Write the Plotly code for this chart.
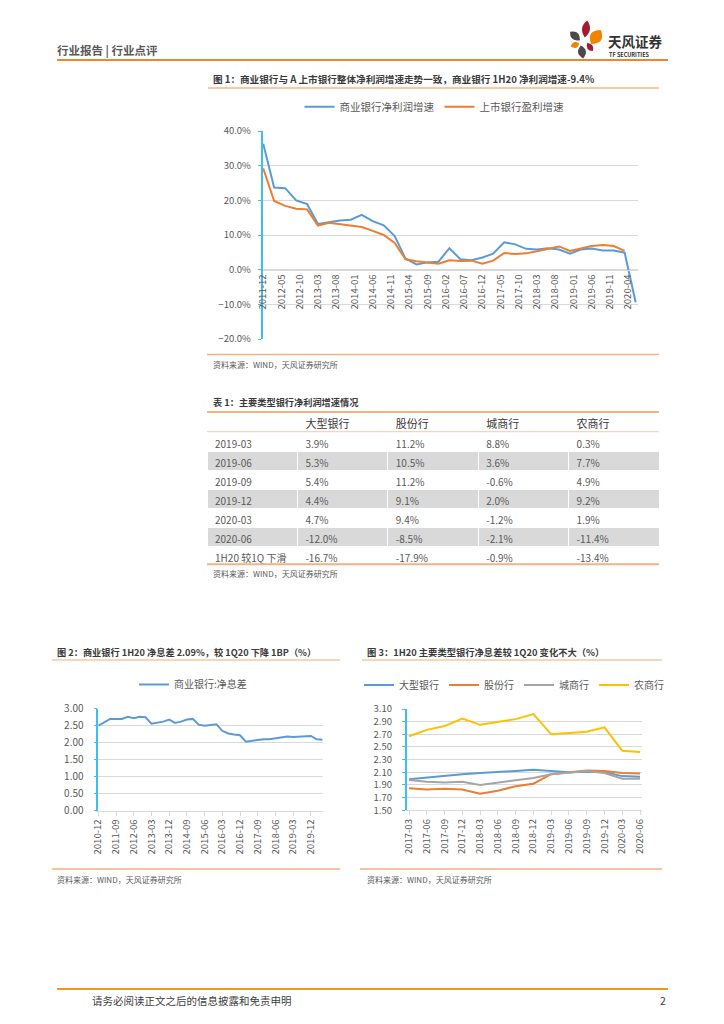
import math
import plotly.graph_objects as go

W, H = 724, 1024
FONT = "Noto Sans CJK SC, Liberation Sans, sans-serif"
GRAY_TXT = "#595959"
DARK_TXT = "#3a3a3a"
GRID = "#d9d9d9"
CYAN = "#3cbef0"
LINE_OR = "#f4b183"


def px(x):
    return x / W


def py(y):
    return 1 - y / H


# ---------------- Chart 1 data ----------------
c1_quarters = ["2011-12", "2012-03", "2012-06", "2012-09", "2012-12", "2013-03", "2013-06",
               "2013-09", "2013-12", "2014-03", "2014-06", "2014-09", "2014-12", "2015-03",
               "2015-06", "2015-09", "2015-12", "2016-03", "2016-06", "2016-09", "2016-12",
               "2017-03", "2017-06", "2017-09", "2017-12", "2018-03", "2018-06", "2018-09",
               "2018-12", "2019-03", "2019-06", "2019-09", "2019-12", "2020-03", "2020-06"]
c1_commercial = [36.3, 23.7, 23.5, 20.0, 18.9, 13.2, 13.7, 14.2, 14.4, 15.8, 14.0, 12.8, 9.7,
                 3.2, 1.5, 2.1, 2.3, 6.2, 3.0, 2.7, 3.5, 4.6, 7.9, 7.3, 6.0, 5.8, 6.2, 5.8,
                 4.6, 5.8, 6.1, 5.5, 5.5, 4.9, -9.4]
c1_listed = [29.2, 19.8, 18.4, 17.6, 17.4, 12.7, 13.5, 13.1, 12.9, 12.3, 11.2, 10.0, 7.7,
             3.0, 2.4, 2.1, 1.7, 2.7, 2.5, 2.6, 1.7, 2.6, 4.8, 4.5, 4.7, 5.3, 6.1, 6.7,
             5.4, 6.2, 6.8, 7.1, 6.8, 5.4, None]

# ---------------- Table data ----------------
tbl_header = ["", "大型银行", "股份行", "城商行", "农商行"]
tbl_rows = ["2019-03", "2019-06", "2019-09", "2019-12", "2020-03", "2020-06",
            "1H20\u00a0较1Q\u00a0下滑"]
tbl_large = [3.9, 5.3, 5.4, 4.4, 4.7, -12.0, -16.7]
tbl_joint = [11.2, 10.5, 11.2, 9.1, 9.4, -8.5, -17.9]
tbl_city = [8.8, 3.6, -0.6, 2.0, -1.2, -2.1, -0.9]
tbl_rural = [0.3, 7.7, 4.9, 9.2, 1.9, -11.4, -13.4]

# ---------------- Chart 2 data ----------------
c2_quarters = ["2010-12", "2011-03", "2011-06", "2011-09", "2011-12", "2012-03", "2012-06",
               "2012-09", "2012-12", "2013-03", "2013-06", "2013-09", "2013-12", "2014-03",
               "2014-06", "2014-09", "2014-12", "2015-03", "2015-06", "2015-09", "2015-12",
               "2016-03", "2016-06", "2016-09", "2016-12", "2017-03", "2017-06", "2017-09",
               "2017-12", "2018-03", "2018-06", "2018-09", "2018-12", "2019-03", "2019-06",
               "2019-09", "2019-12", "2020-03", "2020-06"]
c2_nim = [2.50, 2.60, 2.70, 2.70, 2.70, 2.76, 2.72, 2.76, 2.75, 2.56, 2.58, 2.62, 2.68,
          2.58, 2.62, 2.68, 2.70, 2.53, 2.50, 2.53, 2.54, 2.35, 2.27, 2.24, 2.22, 2.03,
          2.06, 2.08, 2.10, 2.10, 2.13, 2.16, 2.18, 2.17, 2.18, 2.19, 2.20, 2.10, 2.09]

# ---------------- Chart 3 data ----------------
c3_quarters = ["2017-03", "2017-06", "2017-09", "2017-12", "2018-03", "2018-06", "2018-09",
               "2018-12", "2019-03", "2019-06", "2019-09", "2019-12", "2020-03", "2020-06"]
c3_large = [1.99, 2.02, 2.05, 2.07, 2.09, 2.10, 2.12, 2.14, 2.12, 2.10, 2.11, 2.10, 2.04, 2.03]
c3_joint = [1.85, 1.83, 1.84, 1.83, 1.76, 1.81, 1.88, 1.92, 2.07, 2.10, 2.13, 2.12, 2.09, 2.08]
c3_city = [1.98, 1.95, 1.94, 1.95, 1.90, 1.94, 1.97, 2.01, 2.07, 2.09, 2.12, 2.09, 2.00, 2.00]
c3_rural = [2.67, 2.77, 2.83, 2.95, 2.85, 2.90, 2.94, 3.02, 2.70, 2.72, 2.74, 2.81, 2.44, 2.42]

BLUE, ORANGE, GREY, GOLD = "#5b9bd5", "#ed7d31", "#a5a5a5", "#ffc000"

fig = go.Figure()

# Chart 1 traces
fig.add_trace(go.Scatter(x=[q + "-01" for q in c1_quarters], y=c1_commercial, name="商业银行净利润增速",
                         mode="lines", line=dict(color=BLUE, width=2), xaxis="x", yaxis="y",
                         legend="legend"))
fig.add_trace(go.Scatter(x=[q + "-01" for q in c1_quarters], y=c1_listed, name="上市银行盈利增速",
                         mode="lines", line=dict(color=ORANGE, width=2), xaxis="x", yaxis="y",
                         legend="legend"))

# Chart 2 trace
fig.add_trace(go.Scatter(x=c2_quarters, y=c2_nim, name="商业银行:净息差", mode="lines",
                         line=dict(color=BLUE, width=2), xaxis="x2", yaxis="y2", legend="legend2"))

# Chart 3 traces
for name, vals, col in [("大型银行", c3_large, BLUE), ("股份行", c3_joint, ORANGE),
                        ("城商行", c3_city, GREY), ("农商行", c3_rural, GOLD)]:
    fig.add_trace(go.Scatter(x=c3_quarters, y=vals, name=name, mode="lines",
                             line=dict(color=col, width=2), xaxis="x3", yaxis="y3",
                             legend="legend3"))

# Table
def fmt(v):
    return f"{v:.1f}%"

row_fill = ["white" if i % 2 == 0 else "#d9d9d9" for i in range(len(tbl_rows))]
fig.add_trace(go.Table(
    domain=dict(x=[px(207), px(659)], y=[py(568), py(412)]),
    columnwidth=[1, 1, 1, 1, 1],
    header=dict(values=tbl_header, height=20, fill_color="white", line=dict(color="white", width=1),
                align="left", font=dict(family=FONT, size=11, color=DARK_TXT)),
    cells=dict(values=[tbl_rows, [fmt(v) for v in tbl_large], [fmt(v) for v in tbl_joint],
                       [fmt(v) for v in tbl_city], [fmt(v) for v in tbl_rural]],
               height=19, fill_color=[row_fill] * 5, line=dict(color="white", width=1),
               align="left",
               font=dict(family=FONT, size=10, color=GRAY_TXT)),
))

tick_font = dict(family=FONT, size=9.5, color=GRAY_TXT)
legend_font = dict(family=FONT, size=10.5, color=GRAY_TXT)

fig.update_layout(
    width=W, height=H, margin=dict(l=0, r=0, t=0, b=0, pad=0, autoexpand=False),
    paper_bgcolor="white", plot_bgcolor="white",
    font=dict(family=FONT, color=GRAY_TXT),
    showlegend=True,
    # chart 1
    xaxis=dict(domain=[px(262.5), px(637.7)], anchor="free", position=py(269.7), type="date",
               range=["2011-11-25", "2020-06-18"], tick0="2011-12-01", dtick="M5",
               tickformat="%Y-%m", tickangle=-90, tickfont=tick_font, showgrid=False,
               showline=True, linecolor=GRID, linewidth=1, ticks="", zeroline=False,
               automargin=False),
    yaxis=dict(domain=[py(339), py(131)], anchor="x", range=[-20, 40], dtick=10,
               tickformat=".1f", ticksuffix="%", tickfont=tick_font, showgrid=True,
               gridcolor=GRID, gridwidth=1, zeroline=False, showline=True, linecolor=CYAN,
               linewidth=1.5, ticks="outside", ticklen=3, tickcolor=CYAN,
               ticklabelstandoff=5, automargin=False),
    # chart 2
    xaxis2=dict(domain=[px(98.3), px(322.7)], anchor="y2", type="category", range=[0, 38],
                tickmode="array", tickvals=c2_quarters[::3], ticktext=c2_quarters[::3],
                tickangle=-90, tickfont=tick_font, showgrid=False, showline=True,
                linecolor=GRID, ticks="outside", ticklen=4, tickcolor=GRID, zeroline=False,
                automargin=False),
    yaxis2=dict(domain=[py(810.7), py(708.7)], anchor="x2", range=[0, 3.0], dtick=0.5,
                tickformat=".2f", tickfont=dict(family=FONT, size=10, color=GRAY_TXT),
                showgrid=True, gridcolor=GRID, zeroline=False, showline=True, linecolor=CYAN,
                linewidth=1.5, ticks="outside", ticklen=3, tickcolor=CYAN,
                ticklabelstandoff=8, automargin=False),
    # chart 3
    xaxis3=dict(domain=[px(406.7), px(642)], anchor="y3", type="category", range=[-0.13, 13.11],
                tickangle=-90, tickfont=dict(family=FONT, size=9.5, color=GRAY_TXT),
                showgrid=False, showline=True, linecolor=GRID, ticks="outside", ticklen=4,
                tickcolor=GRID, zeroline=False, automargin=False),
    yaxis3=dict(domain=[py(810.3), py(709)], anchor="x3", range=[1.5, 3.1], tick0=1.5, dtick=0.2,
                tickformat=".2f", tickfont=dict(family=FONT, size=9.5, color=GRAY_TXT),
                showgrid=True, gridcolor=GRID, zeroline=False, showline=True, linecolor=CYAN,
                linewidth=1.5, ticks="outside", ticklen=3, tickcolor=CYAN,
                ticklabelstandoff=8, automargin=False),
    legend=dict(orientation="h", x=px(434.5), xanchor="center", y=py(106.7), yanchor="middle",
                font=legend_font, bgcolor="rgba(0,0,0,0)", itemwidth=30),
    legend2=dict(orientation="h", x=px(193), xanchor="center", y=py(684.5), yanchor="middle",
                 font=dict(family=FONT, size=10, color=GRAY_TXT), bgcolor="rgba(0,0,0,0)",
                 itemwidth=30),
    legend3=dict(orientation="h", x=px(514), xanchor="center", y=py(685), yanchor="middle",
                 font=dict(family=FONT, size=10, color=GRAY_TXT), bgcolor="rgba(0,0,0,0)",
                 itemwidth=30),
)

shapes = []


def hline(x0, x1, y, color, width):
    shapes.append(dict(type="line", xref="paper", yref="paper", x0=px(x0), x1=px(x1),
                       y0=py(y), y1=py(y), line=dict(color=color, width=width)))


hline(57, 668, 60, "#f0862a", 2)          # header
hline(208, 659, 88, "#f8c9a2", 2)         # fig1 title underline
hline(207, 659, 354.5, LINE_OR, 1.5)      # fig1 bottom
hline(207, 659, 412, LINE_OR, 2)          # table top
hline(207, 659, 431.7, "#f8cbad", 1)      # table header bottom
hline(207, 659, 564.3, LINE_OR, 2)        # table bottom
hline(52, 340, 660, "#f8c9a2", 1.5)       # fig2 title underline
hline(362, 662, 660, "#f8c9a2", 1.5)      # fig3 title underline
hline(52, 340, 869, LINE_OR, 1.5)         # fig2 bottom
hline(360, 662, 869, LINE_OR, 1.5)        # fig3 bottom
hline(57, 668, 989, "#f29421", 2)         # footer


def petal(cx, cy, L, Wd, ang_deg, color):
    a = math.radians(ang_deg)
    dx, dy = math.cos(a), -math.sin(a)
    nx, ny = -dy, dx
    p1 = (cx - L / 2 * dx, cy - L / 2 * dy)
    p2 = (cx + L / 2 * dx, cy + L / 2 * dy)
    c1 = (cx + Wd * nx, cy + Wd * ny)
    c2 = (cx - Wd * nx, cy - Wd * ny)

    def P(p):
        return f"{px(p[0]):.5f},{py(p[1]):.5f}"
    shapes.append(dict(type="path", xref="paper", yref="paper",
                       path=f"M {P(p1)} Q {P(c1)} {P(p2)} Q {P(c2)} {P(p1)} Z",
                       fillcolor=color, line=dict(width=0)))


petal(586, 29, 17, 8, 82, "#a6192e")
petal(575, 36, 13, 8, 140, "#4a4a4a")
petal(596, 37, 17, 12, 55, "#f08300")
petal(575, 45, 9, 6, 20, "#f08300")
petal(590, 47, 10, 6, -55, "#a6192e")
petal(582, 52, 13, 8, 100, "#4a4a4a")

fig.update_layout(shapes=shapes)

annotations = []


def text(x, y, s, size, color=GRAY_TXT, anchor="left"):
    annotations.append(dict(x=px(x), y=py(y), xref="paper", yref="paper", text=s,
                            showarrow=False, xanchor=anchor, yanchor="middle",
                            font=dict(family=FONT, size=size, color=color)))


text(55, 50, "<b>行业报告 | 行业点评</b>", 11.5, "#595959")
text(606, 41, "<b>天风证券</b>", 13.5, "#333333")
text(607, 55, "<b>TF SECURITIES</b>", 5.5, "#333333")
text(211, 79, "<b>图 1：商业银行与 A 上市银行整体净利润增速走势一致，商业银行 1H20 净利润增速-9.4%</b>", 9.6, DARK_TXT)
text(211, 364, "资料来源：WIND，天风证券研究所", 8, GRAY_TXT)
text(211, 402, "<b>表 1：主要类型银行净利润增速情况</b>", 9.2, DARK_TXT)
text(211, 573, "资料来源：WIND，天风证券研究所", 8, GRAY_TXT)
text(55, 651.5, "<b>图 2：商业银行 1H20 净息差 2.09%，较 1Q20 下降 1BP（%）</b>", 9.2, DARK_TXT)
text(365, 651.5, "<b>图 3：1H20 主要类型银行净息差较 1Q20 变化不大（%）</b>", 9.3, DARK_TXT)
text(55, 879.5, "资料来源：WIND，天风证券研究所", 8, GRAY_TXT)
text(365, 879.5, "资料来源：WIND，天风证券研究所", 8, GRAY_TXT)
text(90, 1000, "请务必阅读正文之后的信息披露和免责申明", 10.5, "#404040")
text(668, 1000, "2", 10.5, "#404040", anchor="right")

fig.update_layout(annotations=annotations)

fig.write_html("out.html", config={"displayModeBar": False},
               post_script="document.body.style.margin='0';document.body.style.padding='0';")
